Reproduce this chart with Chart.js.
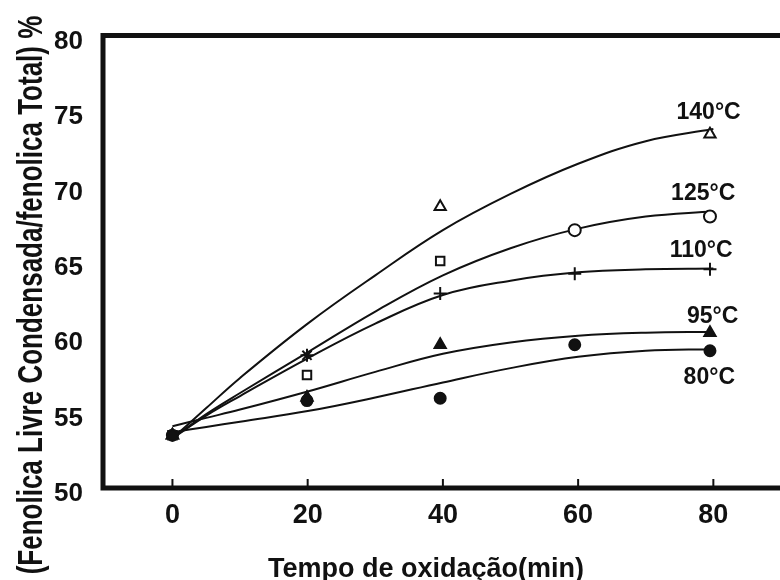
<!DOCTYPE html>
<html><head><meta charset="utf-8">
<script src="https://cdn.jsdelivr.net/npm/chart.js@4.4.1/dist/chart.umd.min.js"></script>
<style>html,body{margin:0;padding:0;background:#fff}</style>
</head><body>
<canvas id="c" width="780" height="580"></canvas>
<script>
// ---- data ----
const timePoints = [0, 19.9, 39.6, 59.5, 79.5];           // minutes (measured points)
const pts140 = [53.5, null, 68.65, null, 73.45];
const pts125 = [53.5, 57.5, 65.05, 67.1, 68.0];
const pts110 = [53.5, 58.8, 62.9, 64.2, 64.5];
const pts95  = [53.5, 56.0, 59.5, null, 60.3];
const pts80  = [53.5, 55.8, 55.95, 59.5, 59.1];

const curveX  = [0, 5, 10, 20, 30, 40, 50, 60, 70, 80];   // fitted curves
const fit140 = [53.3, 55.3, 57.3, 60.9, 64.1, 67.1, 69.5, 71.5, 73.0, 73.8];
const fit125 = [53.3, 54.9, 56.3, 59.0, 61.7, 64.1, 65.9, 67.2, 68.0, 68.35];
const fit110 = [53.3, 54.8, 56.1, 58.6, 60.9, 62.8, 63.75, 64.3, 64.5, 64.55];
const fit95  = [54.1, 54.65, 55.2, 56.4, 57.7, 58.9, 59.65, 60.1, 60.3, 60.35];
const fit80  = [53.7, 54.05, 54.4, 55.1, 56.0, 57.0, 57.95, 58.7, 59.1, 59.2];

const seriesNames = ['140°C', '125°C', '110°C', '95°C', '80°C'];
const nameAnchorX = [79.3, 78.5, 78.2, 79.9, 79.4];
const nameAnchorY = [74.86, 69.55, 65.75, 61.33, 57.29];

const xTicks = [0, 20, 40, 60, 80];
const yTicks = [50, 55, 60, 65, 70, 75, 80];
const xTitle = 'Tempo de oxidação(min)';
const yTitle = '(Fenolica Livre Condensada/fenolica Total) %';

// ---- build chart ----
const INK = '#111';
const toXY = (xs, ys) => xs.map((x, i) => ({x: x, y: ys[i]}));

function markerSet(vals, style, filled, radius) {
  return {
    type: 'scatter', data: toXY(timePoints, vals), showLine: false,
    pointStyle: style, pointRadius: radius, pointHoverRadius: radius,
    pointBorderWidth: 2, borderColor: INK,
    backgroundColor: filled ? INK : '#fff', pointBackgroundColor: filled ? INK : '#fff',
    order: 0
  };
}
function curveSet(vals) {
  return {
    type: 'line', data: toXY(curveX, vals), borderColor: INK, borderWidth: 2,
    pointRadius: 0, fill: false, tension: 0.4,
    order: 1
  };
}

const framePlugin = {
  id: 'frame',
  afterDraw(chart) {
    const {ctx, chartArea: a, scales} = chart;
    ctx.save();
    ctx.strokeStyle = INK; ctx.lineCap = 'butt';
    ctx.lineWidth = 2;
    xTicks.forEach(v => {
      const px = scales.x.getPixelForValue(v);
      ctx.beginPath(); ctx.moveTo(px, a.bottom); ctx.lineTo(px, a.bottom - 9); ctx.stroke();
    });
    ctx.lineWidth = 5;
    ctx.beginPath();
    ctx.moveTo(780, a.top); ctx.lineTo(a.left, a.top); ctx.lineTo(a.left, a.bottom); ctx.lineTo(780, a.bottom);
    ctx.stroke();
    ctx.fillStyle = INK;
    ctx.font = 'bold 23px "Liberation Sans", Arial, sans-serif';
    ctx.textAlign = 'center'; ctx.textBaseline = 'middle';
    seriesNames.forEach((n, i) => {
      ctx.fillText(n, scales.x.getPixelForValue(nameAnchorX[i]), scales.y.getPixelForValue(nameAnchorY[i]));
    });
    ctx.font = 'bold 27px "Liberation Sans", Arial, sans-serif';
    ctx.textBaseline = 'alphabetic';
    ctx.fillText(xTitle, 426, 577);
    ctx.translate(42, 295);
    ctx.rotate(-Math.PI / 2);
    ctx.scale(1, 1.35);
    ctx.font = 'bold 26px "Liberation Sans", Arial, sans-serif';
    ctx.fillText(yTitle, 0, 0);
    ctx.restore();
  }
};

new Chart(document.getElementById('c'), {
  type: 'scatter',
  data: {
    datasets: [
      markerSet(pts80, 'circle', true, 5.5),
      markerSet(pts95, 'triangle', true, 6.5),
      markerSet(pts110, ['cross', 'star', 'cross', 'cross', 'cross'], false, 6.5),
      markerSet(pts125, ['rect', 'rect', 'rect', 'circle', 'circle'], false, 6),
      markerSet(pts140, 'triangle', false, 6.5),
      curveSet(fit140), curveSet(fit125), curveSet(fit110), curveSet(fit95), curveSet(fit80)
    ]
  },
  options: {
    responsive: false, animation: false, devicePixelRatio: 1,
    layout: {padding: {top: 27, right: 0, left: 0, bottom: 0}},
    plugins: {legend: {display: false}, tooltip: {enabled: false}},
    scales: {
      x: {
        type: 'linear', min: -10.27, max: 88.6,
        afterBuildTicks: s => { s.ticks = xTicks.map(v => ({value: v})); },
        afterFit: s => { s.height = 92; },
        grid: {display: false, drawTicks: false}, border: {display: false},
        ticks: {color: INK, padding: 11, font: {family: '"Liberation Sans", Arial, sans-serif', size: 27, weight: 'bold'}}
      },
      y: {
        type: 'linear', min: 50, max: 80,
        afterBuildTicks: s => { s.ticks = yTicks.map(v => ({value: v})); },
        afterFit: s => { s.width = 103; },
        grid: {display: false, drawTicks: false}, border: {display: false},
        ticks: {color: INK, padding: 20, labelOffset: 6, font: {family: '"Liberation Sans", Arial, sans-serif', size: 26, weight: 'bold'}}
      }
    }
  },
  plugins: [framePlugin]
});
</script>
</body></html>
